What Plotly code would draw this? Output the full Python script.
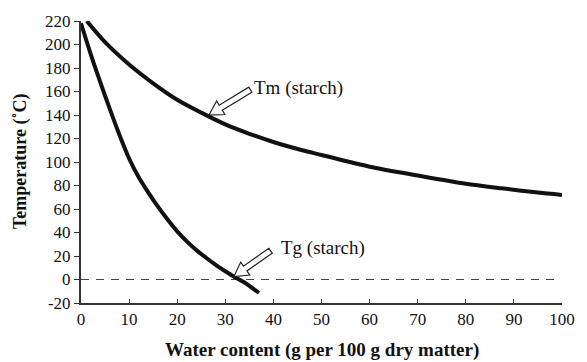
import math
import plotly.graph_objects as go

# Melting temperature of starch vs water content
tm_water = [1.2, 5, 10, 15, 20, 25, 30, 35, 40, 46, 50, 60, 70, 80, 87.5, 95, 100]
tm_temp = [220, 202, 183, 167, 153, 142, 132, 124, 117, 110, 106, 96, 88.5, 81.5, 77.6, 74, 72]

# Glass transition temperature of starch vs water content
tg_water = [0, 2, 4, 6, 8, 10, 12, 14, 16, 18, 20, 22, 24, 26, 28, 30, 32, 34, 37]
tg_temp = [218, 192, 168, 145, 123, 103, 87, 74, 62, 51, 41, 32.5, 25, 18.5, 12.5, 7, 2, -2.5, -11.5]

x_ticks = [0, 10, 20, 30, 40, 50, 60, 70, 80, 90, 100]
y_ticks = [-20, 0, 20, 40, 60, 80, 100, 120, 140, 160, 180, 200, 220]

W, H = 587, 362
ML, MR, MT, MB = 81, 19, 18, 59
X_RANGE = (0, 100)
Y_RANGE = (-20, 220)
PW, PH = W - ML - MR, H - MT - MB


def to_px(x, y):
    px = (x - X_RANGE[0]) / (X_RANGE[1] - X_RANGE[0]) * PW
    py = (y - Y_RANGE[0]) / (Y_RANGE[1] - Y_RANGE[0]) * PH
    return px, py


def to_data(px, py):
    x = X_RANGE[0] + px / PW * (X_RANGE[1] - X_RANGE[0])
    y = Y_RANGE[0] + py / PH * (Y_RANGE[1] - Y_RANGE[0])
    return x, y


def hollow_arrow(tip, tail, shaft=6.0, head=16.0, head_len=14.0):
    """Outline block arrow from tail to tip, built in pixel space."""
    tx, ty = to_px(*tip)
    sx, sy = to_px(*tail)
    dx, dy = tx - sx, ty - sy
    L = math.hypot(dx, dy)
    ux, uy = dx / L, dy / L
    nx, ny = -uy, ux
    bx, by = tx - ux * head_len, ty - uy * head_len
    pts = [
        (sx + nx * shaft / 2, sy + ny * shaft / 2),
        (bx + nx * shaft / 2, by + ny * shaft / 2),
        (bx + nx * head / 2, by + ny * head / 2),
        (tx, ty),
        (bx - nx * head / 2, by - ny * head / 2),
        (bx - nx * shaft / 2, by - ny * shaft / 2),
        (sx - nx * shaft / 2, sy - ny * shaft / 2),
    ]
    d = [to_data(px, py) for px, py in pts]
    return "M " + " L ".join(f"{x:.3f},{y:.3f}" for x, y in d) + " Z"


fig = go.Figure()
fig.add_trace(go.Scatter(x=tm_water, y=tm_temp, mode="lines",
                         line=dict(color="#111111", width=4, shape="spline", smoothing=0.8),
                         hoverinfo="skip", showlegend=False))
fig.add_trace(go.Scatter(x=tg_water, y=tg_temp, mode="lines",
                         line=dict(color="#111111", width=4, shape="spline", smoothing=0.8),
                         hoverinfo="skip", showlegend=False))

shapes = [
    dict(type="line", xref="x", yref="y", x0=0, x1=98.8, y0=0, y1=0,
         line=dict(color="#444444", width=1.2, dash="8px,7px"), layer="below"),
    dict(type="path", xref="x", yref="y", path=hollow_arrow((26.6, 140), (35.2, 161.5)),
         fillcolor="white", line=dict(color="#222222", width=1.2)),
    dict(type="path", xref="x", yref="y", path=hollow_arrow((31.8, 2.5), (39.4, 24.5)),
         fillcolor="white", line=dict(color="#222222", width=1.2)),
]

serif = "Liberation Serif, Times New Roman, serif"
annotations = [
    dict(x=35.5, y=163, xref="x", yref="y", text="Tm (starch)", showarrow=False,
         xanchor="left", yanchor="middle", font=dict(family=serif, size=19, color="#111")),
    dict(x=41.2, y=27, xref="x", yref="y", text="Tg (starch)", showarrow=False,
         xanchor="left", yanchor="middle", font=dict(family=serif, size=19, color="#111")),
    # axis titles
    dict(x=0.5, y=0, xref="paper", yref="paper", yshift=-47,
         text="<b>Water content (g per 100 g dry matter)</b>", showarrow=False,
         xanchor="center", yanchor="middle", font=dict(family=serif, size=19, color="#111")),
    dict(x=0, y=0.5, xref="paper", yref="paper", xshift=-61, textangle=-90,
         text="<b>Temperature (˚C)</b>", showarrow=False,
         xanchor="center", yanchor="middle", font=dict(family=serif, size=18, color="#111")),
]

fig.update_layout(
    width=W, height=H,
    margin=dict(l=ML, r=MR, t=MT, b=MB),
    paper_bgcolor="white", plot_bgcolor="white",
    shapes=shapes, annotations=annotations,
    font=dict(family=serif, color="#111111"),
)
fig.update_xaxes(
    range=list(X_RANGE), tickvals=x_ticks, ticktext=[str(v) for v in x_ticks],
    showgrid=False, zeroline=False, showline=True, linecolor="#333333", linewidth=2,
    ticks="inside", ticklen=4, tickcolor="#333333",
    tickfont=dict(family=serif, size=17, color="#111"),
)
fig.update_yaxes(
    range=list(Y_RANGE), tickvals=y_ticks, ticktext=[str(v) for v in y_ticks],
    showgrid=False, zeroline=False, showline=True, linecolor="#333333", linewidth=2,
    ticks="outside", ticklen=5, tickcolor="#333333",
    tickfont=dict(family=serif, size=17, color="#111"),
)

fig.write_html("out.html")
